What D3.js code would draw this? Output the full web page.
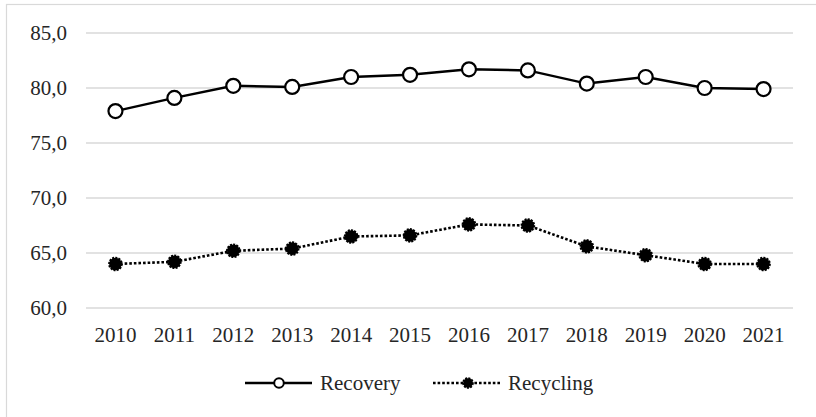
<!DOCTYPE html>
<html>
<head>
<meta charset="utf-8">
<script src="https://cdn.jsdelivr.net/npm/d3@7"></script>
<style>
  body { margin: 0; background: #fff; }
</style>
</head>
<body>
<div id="chart"></div>
<script>
  // values
  const years = ["2010","2011","2012","2013","2014","2015","2016","2017","2018","2019","2020","2021"];
  const recovery = [77.9, 79.1, 80.2, 80.1, 81.0, 81.2, 81.7, 81.6, 80.4, 81.0, 80.0, 79.9];
  const recycling = [64.0, 64.2, 65.2, 65.4, 66.5, 66.6, 67.6, 67.5, 65.6, 64.8, 64.0, 64.0];
  const yTicks = [60, 65, 70, 75, 80, 85];
  const seriesNames = ["Recovery", "Recycling"];

  const width = 816, height = 417;
  const margin = {top: 33, right: 23, bottom: 109, left: 86};
  const font = "'Liberation Serif', 'Times New Roman', Times, serif";
  const fontSize = "21px";

  const svg = d3.select("#chart")
    .append("svg")
    .attr("width", width)
    .attr("height", height)
    .style("font-family", font);

  // chart area border
  svg.append("rect")
    .attr("x", 6.5).attr("y", 4.5)
    .attr("width", width + 10).attr("height", height + 10)
    .attr("fill", "none")
    .attr("stroke", "#d9d9d9")
    .attr("stroke-width", 1.2);

  const x = d3.scaleBand()
    .domain(years)
    .range([margin.left, width - margin.right]);

  const y = d3.scaleLinear()
    .domain([60, 85])
    .range([height - margin.bottom, margin.top]);

  // gridlines
  svg.append("g")
    .selectAll("line")
    .data(yTicks)
    .join("line")
    .attr("x1", margin.left)
    .attr("x2", width - margin.right)
    .attr("y1", d => y(d))
    .attr("y2", d => y(d))
    .attr("stroke", "#d9d9d9")
    .attr("stroke-width", 1.5);

  // y labels
  const fmt = d => d3.format(".1f")(d).replace(".", ",");
  svg.append("g")
    .selectAll("text")
    .data(yTicks)
    .join("text")
    .attr("x", 67)
    .attr("y", d => y(d))
    .attr("dy", "0.35em")
    .attr("text-anchor", "end")
    .style("font-family", font)
    .style("font-size", fontSize)
    .attr("fill", "#262626")
    .text(fmt);

  // x labels
  svg.append("g")
    .selectAll("text")
    .data(years)
    .join("text")
    .attr("x", d => x(d) + x.bandwidth() / 2)
    .attr("y", 335)
    .attr("dy", "0.35em")
    .attr("text-anchor", "middle")
    .style("font-family", font)
    .style("font-size", fontSize)
    .attr("fill", "#262626")
    .text(d => d);

  const line = d3.line()
    .x((d, i) => x(years[i]) + x.bandwidth() / 2)
    .y(d => y(d));

  // Recovery
  svg.append("path")
    .datum(recovery)
    .attr("d", line)
    .attr("fill", "none")
    .attr("stroke", "#000")
    .attr("stroke-width", 2.5);

  svg.append("g")
    .selectAll("circle")
    .data(recovery)
    .join("circle")
    .attr("cx", (d, i) => x(years[i]) + x.bandwidth() / 2)
    .attr("cy", d => y(d))
    .attr("r", 7)
    .attr("fill", "#fff")
    .attr("stroke", "#000")
    .attr("stroke-width", 2.2);

  // Recycling
  svg.append("path")
    .datum(recycling)
    .attr("d", line)
    .attr("fill", "none")
    .attr("stroke", "#000")
    .attr("stroke-width", 2.6)
    .attr("stroke-dasharray", "2.6,2");

  svg.append("g")
    .selectAll("circle")
    .data(recycling)
    .join("circle")
    .attr("cx", (d, i) => x(years[i]) + x.bandwidth() / 2)
    .attr("cy", d => y(d))
    .attr("r", 6.3)
    .attr("fill", "#000")
    .attr("stroke", "#000")
    .attr("stroke-width", 2)
    .attr("stroke-dasharray", "2,1.2");

  // legend
  const legendY = 383;
  const legend = svg.append("g");

  legend.append("line")
    .attr("x1", 245).attr("x2", 312)
    .attr("y1", legendY).attr("y2", legendY)
    .attr("stroke", "#000").attr("stroke-width", 2.5);
  legend.append("circle")
    .attr("cx", 279).attr("cy", legendY).attr("r", 4.8)
    .attr("fill", "#fff").attr("stroke", "#000").attr("stroke-width", 2);
  legend.append("text")
    .attr("x", 320).attr("y", legendY).attr("dy", "0.35em")
    .style("font-family", font)
    .style("font-size", fontSize)
    .attr("fill", "#262626")
    .text(seriesNames[0]);

  legend.append("line")
    .attr("x1", 433).attr("x2", 500)
    .attr("y1", legendY).attr("y2", legendY)
    .attr("stroke", "#000").attr("stroke-width", 2.6)
    .attr("stroke-dasharray", "2.6,2");
  legend.append("circle")
    .attr("cx", 468).attr("cy", legendY).attr("r", 4.8)
    .attr("fill", "#000").attr("stroke", "#000").attr("stroke-width", 2)
    .attr("stroke-dasharray", "2,1.2");
  legend.append("text")
    .attr("x", 508).attr("y", legendY).attr("dy", "0.35em")
    .style("font-family", font)
    .style("font-size", fontSize)
    .attr("fill", "#262626")
    .text(seriesNames[1]);
</script>
</body>
</html>
